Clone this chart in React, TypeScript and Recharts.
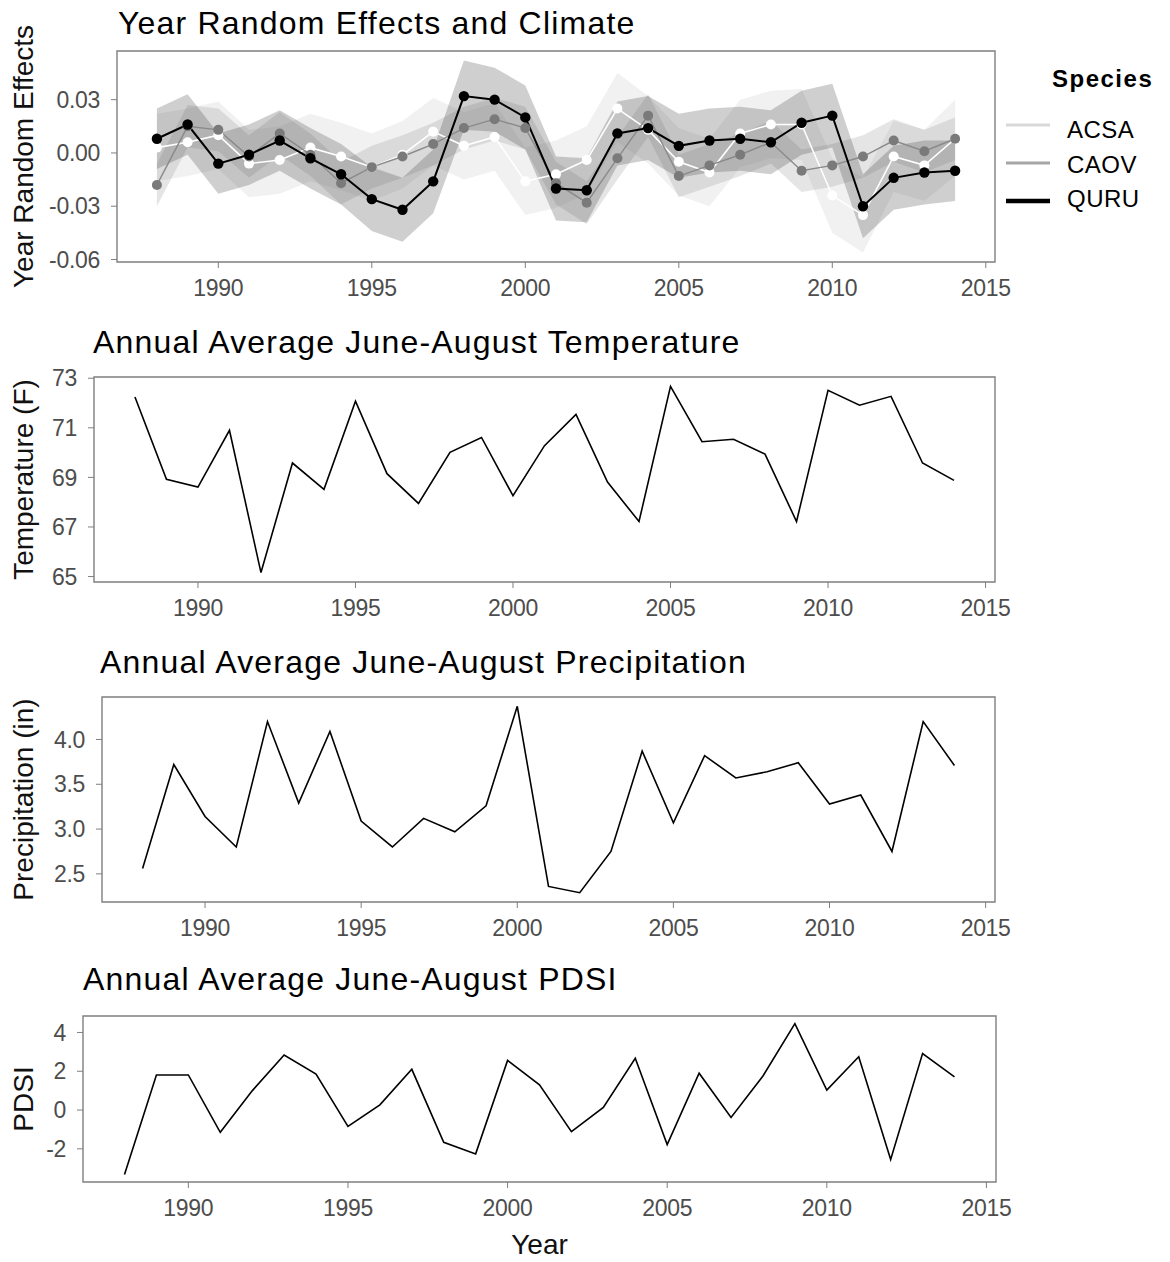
import { Area, ComposedChart, Line, ReferenceArea, XAxis, YAxis } from "recharts";

const YEARS = [1988, 1989, 1990, 1991, 1992, 1993, 1994, 1995, 1996, 1997, 1998, 1999, 2000,
  2001, 2002, 2003, 2004, 2005, 2006, 2007, 2008, 2009, 2010, 2011, 2012, 2013, 2014];

// year random effects per species, with their interval bounds
const ACSA = [0.003, 0.006, 0.010, -0.006, -0.004, 0.003, -0.002, -0.008, -0.001, 0.012, 0.004, 0.009, -0.016,
  -0.012, -0.004, 0.025, 0.013, -0.005, -0.011, 0.011, 0.016, 0.016, -0.024, -0.035, -0.002, -0.007, 0.008];
const ACSA_LO = [-0.016, -0.013, -0.009, -0.025, -0.023, -0.016, -0.021, -0.027, -0.020, -0.007, -0.015, -0.010, -0.035,
  -0.031, -0.023, 0.006, -0.006, -0.024, -0.030, -0.008, -0.003, -0.004, -0.045, -0.056, -0.022, -0.027, -0.013];
const ACSA_HI = [0.022, 0.025, 0.029, 0.013, 0.015, 0.022, 0.017, 0.011, 0.018, 0.031, 0.023, 0.028, 0.003,
  0.007, 0.015, 0.045, 0.032, 0.014, 0.008, 0.030, 0.035, 0.036, -0.003, -0.014, 0.018, 0.013, 0.030];

const CAOV = [-0.018, 0.015, 0.013, -0.002, 0.011, -0.001, -0.017, -0.008, -0.002, 0.005, 0.014, 0.019, 0.014,
  -0.017, -0.028, -0.003, 0.021, -0.013, -0.007, -0.001, 0.006, -0.010, -0.007, -0.002, 0.007, 0.001, 0.008];
const CAOV_LO = [-0.030, 0.003, 0.001, -0.014, -0.001, -0.013, -0.029, -0.020, -0.014, -0.007, 0.002, 0.007, 0.002,
  -0.029, -0.040, -0.015, 0.009, -0.025, -0.019, -0.013, -0.006, -0.022, -0.019, -0.014, -0.005, -0.011, -0.004];
const CAOV_HI = [-0.006, 0.027, 0.025, 0.010, 0.023, 0.011, -0.005, 0.004, 0.010, 0.017, 0.026, 0.031, 0.026,
  -0.005, -0.016, 0.009, 0.033, -0.001, 0.005, 0.011, 0.018, 0.002, 0.005, 0.010, 0.019, 0.013, 0.020];

const QURU = [0.008, 0.016, -0.006, -0.001, 0.007, -0.003, -0.012, -0.026, -0.032, -0.016, 0.032, 0.030, 0.020,
  -0.020, -0.021, 0.011, 0.014, 0.004, 0.007, 0.008, 0.006, 0.017, 0.021, -0.030, -0.014, -0.011, -0.010];
const QURU_LO = [-0.009, -0.001, -0.023, -0.018, -0.010, -0.020, -0.029, -0.044, -0.050, -0.034, 0.013, 0.012, 0.002,
  -0.038, -0.039, -0.007, -0.004, -0.014, -0.011, -0.010, -0.012, -0.001, 0.003, -0.048, -0.032, -0.029, -0.027];
const QURU_HI = [0.025, 0.033, 0.011, 0.016, 0.024, 0.014, 0.005, -0.008, -0.014, 0.002, 0.052, 0.048, 0.038,
  -0.002, -0.003, 0.029, 0.032, 0.022, 0.025, 0.026, 0.024, 0.035, 0.039, -0.012, 0.004, 0.007, 0.007];

// climate, June-August averages
const TEMP = [72.24, 68.92, 68.61, 70.90, 65.16, 69.58, 68.52, 72.07, 69.15, 67.95, 70.01, 70.61, 68.26,
  70.28, 71.54, 68.81, 67.22, 72.67, 70.44, 70.54, 69.94, 67.22, 72.51, 71.91, 72.27, 69.58, 68.88];
const PRECIP = [2.56, 3.72, 3.14, 2.80, 4.20, 3.29, 4.09, 3.09, 2.80, 3.12, 2.97, 3.26, 4.37,
  2.36, 2.29, 2.75, 3.87, 3.07, 3.82, 3.57, 3.64, 3.74, 3.28, 3.38, 2.75, 4.20, 3.71];
const PDSI = [-3.32, 1.81, 1.81, -1.15, 0.99, 2.84, 1.85, -0.84, 0.27, 2.10, -1.66, -2.26, 2.56,
  1.30, -1.11, 0.14, 2.67, -1.78, 1.90, -0.38, 1.76, 4.46, 1.03, 2.75, -2.55, 2.91, 1.71];

const X_TICKS = [1990, 1995, 2000, 2005, 2010, 2015];
const X_DOMAIN: [number, number] = [1986.7, 2015.3];
const SPECIES = ["ACSA", "CAOV", "QURU"];
const SPECIES_KEY = ["#d9d9d9", "#a6a6a6", "#000000"];

const FONT = "'Liberation Sans', Arial, Helvetica, sans-serif";
const TICK_TXT = "#4d4d4d";
const BORDER = "#7f7f7f";
const CW = 1030;

const effects = YEARS.map((year, i) => ({
  year,
  acsa: ACSA[i], caov: CAOV[i], quru: QURU[i],
  acsaBand: [ACSA_LO[i], ACSA_HI[i]],
  caovBand: [CAOV_LO[i], CAOV_HI[i]],
  quruBand: [QURU_LO[i], QURU_HI[i]],
}));
const climate = YEARS.map((year, i) => ({ year, temp: TEMP[i], precip: PRECIP[i], pdsi: PDSI[i] }));

const tick = { fill: TICK_TXT, fontSize: 23, fontFamily: FONT, letterSpacing: -0.3 };

function Frame({ data, chartTop, height, plotLeft, plotTop, plotBottom, right = 995, yDomain, yTicks, fmt, children }: any) {
  return (
    <div style={{ position: "absolute", left: 0, top: chartTop }}>
      <ComposedChart width={CW} height={height} data={data}
        margin={{ top: plotTop - chartTop, right: CW - right, left: 0, bottom: chartTop + height - plotBottom - 40 }}>
        <XAxis type="number" dataKey="year" domain={X_DOMAIN} ticks={X_TICKS} interval={0} allowDataOverflow
          axisLine={false} tickSize={6} tickMargin={12} tickLine={{ stroke: BORDER }} tick={tick} height={40} />
        <YAxis type="number" domain={yDomain} ticks={yTicks} interval={0} allowDataOverflow width={plotLeft}
          axisLine={false} tickSize={6} tickMargin={11} tickLine={{ stroke: BORDER }} tick={tick}
          tickFormatter={fmt} />
        {children}
        <ReferenceArea x1={X_DOMAIN[0]} x2={X_DOMAIN[1]} y1={yDomain[0]} y2={yDomain[1]}
          fill="none" fillOpacity={0} stroke={BORDER} strokeWidth={1.4} ifOverflow="visible" />
      </ComposedChart>
    </div>
  );
}

export default function App() {
  const bandOpacity = 0.26;
  return (
    <div style={{ position: "absolute", left: 0, top: 0, width: 1170, height: 1262, background: "#fff", fontFamily: FONT }}>
      <Frame data={effects} chartTop={0} height={320} plotLeft={117} plotTop={51} plotBottom={262}
        yDomain={[-0.0614, 0.0574]} yTicks={[-0.06, -0.03, 0, 0.03]} fmt={(v: number) => v.toFixed(2)}>
        {[
          <Area key="ab" type="linear" dataKey="acsaBand" stroke="none" fill="#c8c8c8" fillOpacity={bandOpacity} isAnimationActive={false} />,
          <Area key="cb" type="linear" dataKey="caovBand" stroke="none" fill="#999999" fillOpacity={bandOpacity} isAnimationActive={false} />,
          <Area key="qb" type="linear" dataKey="quruBand" stroke="none" fill="#444444" fillOpacity={bandOpacity} isAnimationActive={false} />,
          <Line key="al" type="linear" dataKey="acsa" stroke="#ffffff" strokeWidth={1.6} dot={false} activeDot={false} isAnimationActive={false} />,
          <Line key="cl" type="linear" dataKey="caov" stroke="#8a8a8a" strokeWidth={1.4} dot={false} activeDot={false} isAnimationActive={false} />,
          <Line key="ql" type="linear" dataKey="quru" stroke="#000000" strokeWidth={2} dot={false} activeDot={false} isAnimationActive={false} />,
          <Line key="ap" type="linear" dataKey="acsa" stroke="none" dot={{ r: 5, fill: "#ffffff", stroke: "none" }} activeDot={false} isAnimationActive={false} />,
          <Line key="cp" type="linear" dataKey="caov" stroke="none" dot={{ r: 5, fill: "#7a7a7a", stroke: "none" }} activeDot={false} isAnimationActive={false} />,
          <Line key="qp" type="linear" dataKey="quru" stroke="none" dot={{ r: 5.2, fill: "#000000", stroke: "none" }} activeDot={false} isAnimationActive={false} />,
        ]}
      </Frame>

      <Frame data={climate} chartTop={320} height={320} plotLeft={94} plotTop={377} plotBottom={582}
        yDomain={[64.78, 73.05]} yTicks={[65, 67, 69, 71, 73]}>
        <Line type="linear" dataKey="temp" stroke="#000" strokeWidth={1.6} dot={false} activeDot={false} isAnimationActive={false} />
      </Frame>

      <Frame data={climate} chartTop={640} height={320} plotLeft={102} plotTop={697} plotBottom={902}
        yDomain={[2.186, 4.474]} yTicks={[2.5, 3, 3.5, 4]} fmt={(v: number) => v.toFixed(1)}>
        <Line type="linear" dataKey="precip" stroke="#000" strokeWidth={1.6} dot={false} activeDot={false} isAnimationActive={false} />
      </Frame>

      <Frame data={climate} chartTop={960} height={270} plotLeft={83} plotTop={1016} plotBottom={1182} right={996}
        yDomain={[-3.71, 4.85]} yTicks={[-2, 0, 2, 4]}>
        <Line type="linear" dataKey="pdsi" stroke="#000" strokeWidth={1.6} dot={false} activeDot={false} isAnimationActive={false} />
      </Frame>

      <svg width={1170} height={1262} style={{ position: "absolute", left: 0, top: 0, pointerEvents: "none" }}
        fontFamily={FONT}>
        <g fontSize={32} letterSpacing={1.2} fill="#000">
          <text x={118} y={34}>Year Random Effects and Climate</text>
          <text x={93} y={353}>Annual Average June-August Temperature</text>
          <text x={100} y={673}>Annual Average June-August Precipitation</text>
          <text x={83} y={990}>Annual Average June-August PDSI</text>
        </g>
        <g fontSize={28} fill="#111" textAnchor="middle">
          <text transform="translate(33,156.5) rotate(-90)">Year Random Effects</text>
          <text transform="translate(33,479.5) rotate(-90)">Temperature (F)</text>
          <text transform="translate(33,799.5) rotate(-90)">Precipitation (in)</text>
          <text transform="translate(33,1099) rotate(-90)">PDSI</text>
          <text x={539.5} y={1254}>Year</text>
        </g>
        <text x={1052} y={87} fontSize={24} fontWeight="bold" letterSpacing={1.5} fill="#000">Species</text>
        {SPECIES.map((s, i) => (
          <g key={s}>
            <line x1={1006} x2={1050} y1={125 + i * 38} y2={125 + i * 38}
              stroke={SPECIES_KEY[i]} strokeWidth={i === 2 ? 4.5 : 3} />
            <text x={1067} y={138 + i * 34.5} fontSize={24} letterSpacing={0.5} fill="#000">{s}</text>
          </g>
        ))}
      </svg>
    </div>
  );
}
